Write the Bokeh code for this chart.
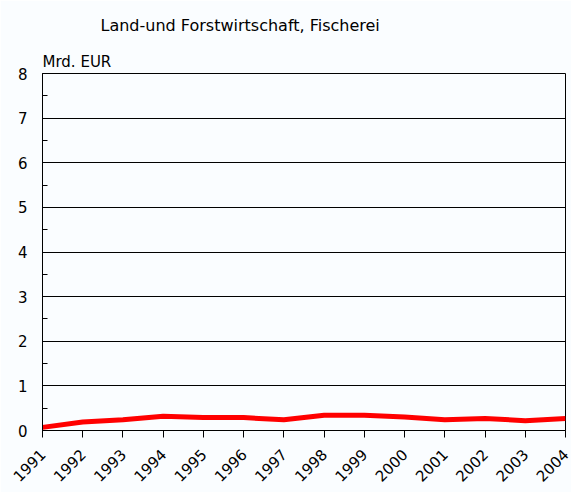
from bokeh.plotting import figure
from bokeh.models import SingleIntervalTicker, FixedTicker, Title, Range1d
from bokeh.embed import file_html
from bokeh.resources import INLINE
import math

years = [1991, 1992, 1993, 1994, 1995, 1996, 1997, 1998, 1999, 2000, 2001, 2002, 2003, 2004]
values = [0.07, 0.19, 0.24, 0.32, 0.29, 0.29, 0.24, 0.34, 0.34, 0.30, 0.24, 0.27, 0.22, 0.27]
title_text = "Land-und Forstwirtschaft, Fischerei"
unit_text = "Mrd. EUR"

FONT = "DejaVu Sans"
BG = "#fafdff"

p = figure(width=571, height=492, output_backend="svg", toolbar_location=None,
           x_range=Range1d(1991, 2004), y_range=Range1d(0, 8),
           min_border_left=42, min_border_right=6, min_border_top=73, min_border_bottom=62)
p.frame_width = 523
p.frame_height = 357
p.background_fill_color = BG
p.border_fill_color = BG
p.outline_line_color = "black"
p.outline_line_width = 1

p.title.text = title_text
p.title.align = "left"
p.title.offset = 58
p.title.text_font = FONT
p.title.text_font_size = "16px"
p.title.text_font_style = "normal"
p.title.text_color = "black"
p.title.standoff = 25

unit = Title(text=unit_text, align="left", offset=0, text_font=FONT, text_font_size="15px",
             text_font_style="normal", text_color="black", standoff=6)
p.add_layout(unit, "above")

p.line(years, values, line_color="#ff0000", line_width=5)

p.xgrid.grid_line_color = None
p.ygrid.grid_line_color = "black"
p.ygrid.grid_line_width = 1
p.ygrid.ticker = SingleIntervalTicker(interval=1, num_minor_ticks=2)

p.yaxis.ticker = SingleIntervalTicker(interval=1, num_minor_ticks=2)
p.yaxis.major_tick_out = 0
p.yaxis.major_tick_in = 0
p.yaxis.minor_tick_in = 5
p.yaxis.minor_tick_out = 0
p.yaxis.major_label_standoff = 15
p.yaxis.axis_line_color = "black"
p.yaxis.major_label_text_font = FONT
p.yaxis.major_label_text_font_size = "15px"
p.yaxis.major_label_text_color = "black"

p.xaxis.ticker = FixedTicker(ticks=years)
p.xaxis.major_tick_out = 7
p.xaxis.major_tick_in = 0
p.xaxis.minor_tick_out = 0
p.xaxis.major_label_orientation = math.pi / 4
p.xaxis.major_label_text_font = FONT
p.xaxis.major_label_text_font_size = "15px"
p.xaxis.major_label_text_color = "black"
p.xaxis.major_label_standoff = 14

open("out.html", "w").write(file_html(p, INLINE))
